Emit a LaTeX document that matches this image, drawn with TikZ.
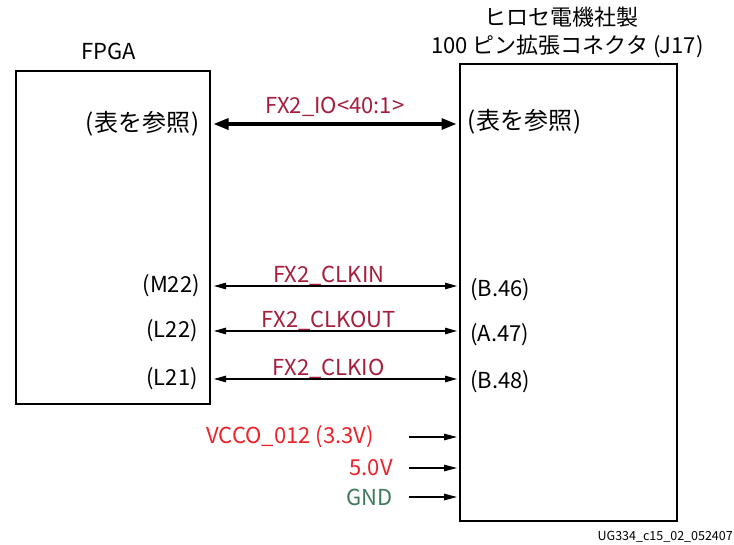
\documentclass[tikz,border=0pt]{standalone}
\usepackage{fontspec}
\setmainfont{Noto Sans CJK JP}
\usetikzlibrary{arrows.meta,positioning}

\definecolor{sigred}{HTML}{A51E3C}
\definecolor{pwrred}{HTML}{EE2229}
\definecolor{gndgreen}{HTML}{3F7A5C}

\newcommand{\seetable}{{\fontsize{24}{28}\selectfont(\hspace{1pt}表を参照\hspace{1pt})}}

\tikzset{
  block/.style={draw, line width=2pt, anchor=north west, inner sep=0pt},
  pinlabel/.style={inner sep=0pt},
  netlabel/.style={text=sigred, anchor=base, inner sep=0pt},
  bus/.style={line width=3.2pt, {Triangle[length=15pt,width=11pt]}-{Triangle[length=15pt,width=11pt]}, shorten <=2.5pt, shorten >=2.5pt},
  sig/.style={line width=1.1pt, {Triangle[length=12pt,width=6.5pt]}-{Triangle[length=12pt,width=6.5pt]}, shorten <=3pt, shorten >=2pt},
  pwr/.style={line width=1.1pt, -{Triangle[length=13pt,width=6.5pt]}, shorten >=2pt}
}

\begin{document}
\begin{tikzpicture}[x=1pt, y=-1pt, font=\fontsize{22}{26}\selectfont]

\useasboundingbox (0,0) rectangle (734,544);

%%%%%%%%%%%%%%%%%%%%%%%%%%%%%%%%%%%%%%%%%%%%%%%%%%%%%%%%%%%%%%
% FPGA
%%%%%%%%%%%%%%%%%%%%%%%%%%%%%%%%%%%%%%%%%%%%%%%%%%%%%%%%%%%%%%

\node[
block,
minimum width=194pt,
minimum height=333pt
](fpga)
at (15,70)
{};

\node[anchor=base]
(fpgatitle)
at ([xshift=-4pt,yshift=11pt]fpga.north)
{FPGA};

\node[pinlabel, anchor=east]
(fio)
at ([xshift=-11pt,yshift=-54pt]fpga.north east)
{\seetable};

\node[pinlabel, anchor=east]
(fclkin)
at ([xshift=-11pt,yshift=-216pt]fpga.north east)
{(M22)};

\node[pinlabel, anchor=east]
(fclkout)
at ([xshift=-13pt,yshift=-261pt]fpga.north east)
{(L22)};

\node[pinlabel, anchor=east]
(fclkio)
at ([xshift=-13pt,yshift=-309pt]fpga.north east)
{(L21)};

%%%%%%%%%%%%%%%%%%%%%%%%%%%%%%%%%%%%%%%%%%%%%%%%%%%%%%%%%%%%%%
% CONNECTOR J17
%%%%%%%%%%%%%%%%%%%%%%%%%%%%%%%%%%%%%%%%%%%%%%%%%%%%%%%%%%%%%%

\node[
block,
minimum width=217pt,
minimum height=457pt
](conn)
at (459,63)
{};

\node[anchor=base]
(conntitle)
at ([xshift=-7pt,yshift=38pt]conn.north)
{ヒロセ電機社製};

\node[anchor=base]
(connsub)
at ([xshift=-1pt,yshift=10pt]conn.north)
{100 ピン拡張コネクタ (J17)};

\node[pinlabel, anchor=west]
(cio)
at ([xshift=8pt,yshift=-59pt]conn.north west)
{\seetable};

\node[pinlabel, anchor=west]
(cclkin)
at ([xshift=11pt,yshift=-227pt]conn.north west)
{(B.46)};

\node[pinlabel, anchor=west]
(cclkout)
at ([xshift=11pt,yshift=-272pt]conn.north west)
{(A.47)};

\node[pinlabel, anchor=west]
(cclkio)
at ([xshift=11pt,yshift=-319pt]conn.north west)
{(B.48)};

%%%%%%%%%%%%%%%%%%%%%%%%%%%%%%%%%%%%%%%%%%%%%%%%%%%%%%%%%%%%%%
% SIGNALS
%%%%%%%%%%%%%%%%%%%%%%%%%%%%%%%%%%%%%%%%%%%%%%%%%%%%%%%%%%%%%%

\draw[bus] (fpga.east |- fio) -- (conn.west |- fio)
node[netlabel, pos=0.5, yshift=11pt]{FX2\_IO<40:1>};

\draw[sig] (fpga.east |- fclkin) -- (conn.west |- fclkin)
node[netlabel, pos=0.475, yshift=4pt]{FX2\_CLKIN};

\draw[sig] (fpga.east |- fclkout) -- (conn.west |- fclkout)
node[netlabel, pos=0.475, yshift=4pt]{FX2\_CLKOUT};

\draw[sig] (fpga.east |- fclkio) -- (conn.west |- fclkio)
node[netlabel, pos=0.475, yshift=4pt]{FX2\_CLKIO};

%%%%%%%%%%%%%%%%%%%%%%%%%%%%%%%%%%%%%%%%%%%%%%%%%%%%%%%%%%%%%%
% POWER
%%%%%%%%%%%%%%%%%%%%%%%%%%%%%%%%%%%%%%%%%%%%%%%%%%%%%%%%%%%%%%

\coordinate (vccoin) at ([xshift=-50pt,yshift=-374pt]conn.north west);
\coordinate (fivein) at ([xshift=-50pt,yshift=-405pt]conn.north west);
\coordinate (gndin) at ([xshift=-50pt,yshift=-434pt]conn.north west);

\node[pinlabel, text=pwrred, left=35pt of vccoin]
(vcco)
{VCCO\_012 (3.3V)};

\node[pinlabel, text=pwrred, left=16pt of fivein]
(five)
{5.0V};

\node[pinlabel, text=gndgreen, left=16pt of gndin]
(gnd)
{GND};

\draw[pwr] (vccoin) -- (conn.west |- vccoin);
\draw[pwr] (fivein) -- (conn.west |- fivein);
\draw[pwr] (gndin) -- (conn.west |- gndin);

%%%%%%%%%%%%%%%%%%%%%%%%%%%%%%%%%%%%%%%%%%%%%%%%%%%%%%%%%%%%%%
% FIGURE ID
%%%%%%%%%%%%%%%%%%%%%%%%%%%%%%%%%%%%%%%%%%%%%%%%%%%%%%%%%%%%%%

\node[anchor=base east, inner sep=0pt, font=\fontsize{12.5}{15}\selectfont]
(figid)
at (733,540)
{UG334\_c15\_02\_052407};

\end{tikzpicture}
\end{document}
